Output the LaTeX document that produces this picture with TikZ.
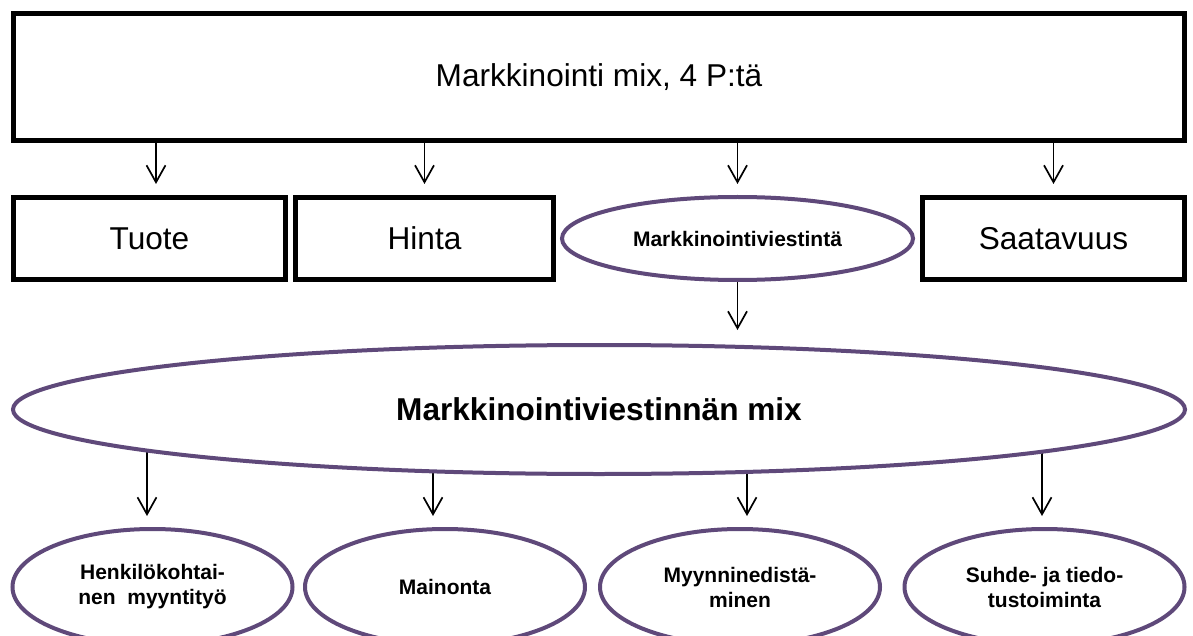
\documentclass[tikz,border=0pt]{standalone}
\usepackage{fontspec}
\setmainfont{Liberation Sans}
\usetikzlibrary{arrows.meta,shapes.geometric,backgrounds}
\definecolor{ovalpurple}{HTML}{5F497A}

\begin{document}
\begin{tikzpicture}[x=1pt, y=-1pt,
boxnode/.style={rectangle, draw=black, line width=5pt, inner sep=0pt, font=\fontsize{31.6}{38}\selectfont},
ovalnode/.style={ellipse, draw=ovalpurple, fill=white, line width=4pt, inner sep=0pt, align=center, font=\bfseries\fontsize{21}{25}\selectfont},
arr/.style={-{Straight Barb[length=17pt,width=19pt]}, line width=1.7pt, shorten >=11pt}
]
\useasboundingbox (0,0) rectangle (1193,636);

    \node [boxnode, minimum width=1171pt, minimum height=127pt] (mix) at (599,77) {Markkinointi mix, 4 P:tä};

    \node [boxnode, minimum width=272pt, minimum height=82pt] (tuote) at (149.5,238.5) {Tuote};
    \node [boxnode, minimum width=258pt, minimum height=82pt] (hinta) at (424.5,238.5) {Hinta};
    \node [ovalnode, minimum width=351pt, minimum height=83pt] (viest) at (737.5,238.5) {Markkinointiviestintä};
    \node [boxnode, minimum width=262pt, minimum height=82pt] (saat) at (1053.5,238.5) {Saatavuus};

    \node [ovalnode, minimum width=1172pt, minimum height=129pt, font=\bfseries\fontsize{31.6}{38}\selectfont] (big) at (599,409.5) {Markkinointiviestinnän mix};

    \node [ovalnode, minimum width=280pt, minimum height=116pt] (henk) at (152.5,587) {Henkilökohtai-\\nen~~myyntityö};
    \node [ovalnode, minimum width=280pt, minimum height=116pt] (main) at (445,587) {Mainonta};
    \node [ovalnode, minimum width=280pt, minimum height=116pt] (myyn) at (740,587) {Myynninedistä-\\minen};
    \node [ovalnode, minimum width=280pt, minimum height=116pt] (suhde) at (1044.5,587) {Suhde- ja tiedo-\\tustoiminta};

    % 4 P:tä
    \draw [arr] ([xshift=6.5pt]tuote.north |- mix.south) -- ([xshift=6.5pt]tuote.north);
    \draw [arr] (hinta.north |- mix.south) -- (hinta.north);
    \draw [arr] (viest.north |- mix.south) -- (viest.north);
    \draw [arr] (saat.north |- mix.south) -- (saat.north);

    \draw [arr, shorten >=13pt] (viest.south) -- (viest.south |- big.north);

    % viestinnan mix, arrows start behind the oval
    \begin{scope}[on background layer]
    \draw [arr] ([xshift=-452pt]big.center) -- ([xshift=-452pt]big.center |- henk.north);
    \draw [arr] ([xshift=-166pt]big.center) -- ([xshift=-166pt]big.center |- main.north);
    \draw [arr] ([xshift=148pt]big.center) -- ([xshift=148pt]big.center |- myyn.north);
    \draw [arr] ([xshift=443pt]big.center) -- ([xshift=443pt]big.center |- suhde.north);
    \end{scope}

\end{tikzpicture}
\end{document}
